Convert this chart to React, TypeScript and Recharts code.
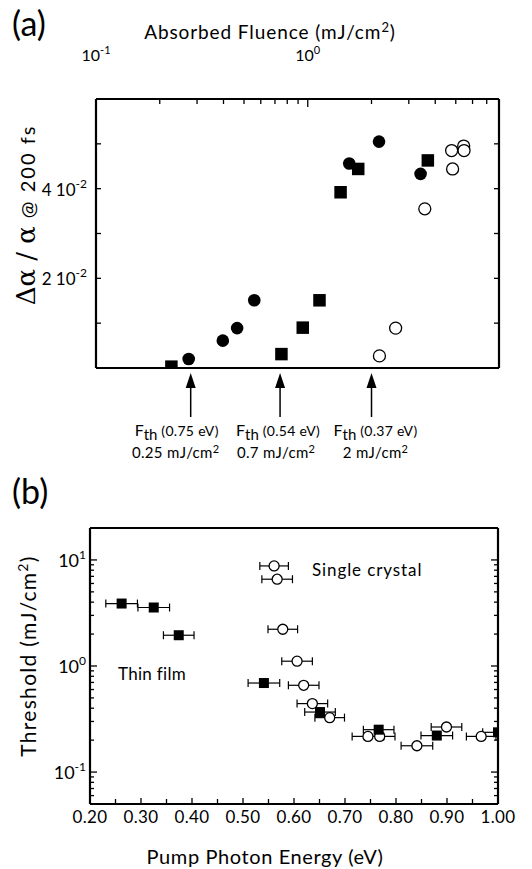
import React from "react";
import { ScatterChart, Scatter, XAxis, YAxis, ReferenceDot, ErrorBar } from "recharts";

// ---- panel (a): transient absorption vs absorbed fluence ----
const fluenceFilledCircle = [0.274, 0.397, 0.464, 0.559, 1.57, 2.17, 3.41];
const signalFilledCircle = [0.002, 0.0061, 0.0089, 0.0151, 0.0456, 0.0505, 0.0433];
const fluenceFilledSquare = [0.227, 0.751, 0.947, 1.136, 1.429, 1.731, 3.69];
const signalFilledSquare = [0.0003, 0.0031, 0.009, 0.0151, 0.0392, 0.0444, 0.0463];
const fluenceOpenCircle = [2.18, 2.6, 3.57, 4.83, 4.78, 5.45, 5.47];
const signalOpenCircle = [0.0027, 0.0089, 0.0355, 0.0444, 0.0485, 0.0495, 0.0485];

const thresholdArrowFluence = [0.28, 0.74, 2.0];
const thresholdPhoton = ["0.75", "0.54", "0.37"];
const thresholdValue = ["0.25", "0.7", "2"];

const fluenceTicks = [0.1, 0.2, 0.3, 0.4, 0.5, 0.6, 0.7, 0.8, 0.9, 1, 2, 3, 4, 5, 6, 7, 8];
const signalTicks = [0.01, 0.02, 0.03, 0.04, 0.05];

// ---- panel (b): threshold vs pump photon energy ----
const crystalEnergy = [0.561, 0.567, 0.578, 0.606, 0.619, 0.636, 0.67, 0.745, 0.768, 0.841, 0.899, 0.967];
const crystalThreshold = [8.78, 6.58, 2.22, 1.11, 0.658, 0.442, 0.326, 0.217, 0.217, 0.177, 0.266, 0.217];
const crystalErr = [0.028, 0.03, 0.029, 0.03, 0.03, 0.03, 0.029, 0.031, 0.03, 0.031, 0.03, 0.029];
const filmEnergy = [0.262, 0.325, 0.374, 0.541, 0.651, 0.766, 0.88, 1.0];
const filmThreshold = [3.88, 3.56, 1.95, 0.691, 0.368, 0.251, 0.221, 0.237];
const filmErr = [0.031, 0.031, 0.03, 0.031, 0.03, 0.03, 0.031, 0.03];

const energyTicks = [0.2, 0.25, 0.3, 0.35, 0.4, 0.45, 0.5, 0.55, 0.6, 0.65, 0.7, 0.75, 0.8, 0.85, 0.9, 0.95, 1.0];
const thresholdTicks = [
  0.06, 0.07, 0.08, 0.09, 0.1, 0.2, 0.3, 0.4, 0.5, 0.6, 0.7, 0.8, 0.9,
  1, 2, 3, 4, 5, 6, 7, 8, 9, 10,
];

const ENERGY_MAX = 1.0;
const FONT = "Lato, sans-serif";
const AXIS_LINE = { stroke: "#000", strokeWidth: 2.2 };

const zip = (xs: number[], ys: number[]) => xs.map((x, i) => ({ x, y: ys[i] }));

// error bars are cut at the right frame edge, like in the original plot
const zipErr = (xs: number[], ys: number[], es: number[]) =>
  xs.map((x, i) => ({ x, y: ys[i], err: [es[i], Math.max(0, Math.min(es[i], ENERGY_MAX - x))] }));

const isPow10 = (v: number) => Math.abs(Math.log10(v) - Math.round(Math.log10(v))) < 1e-6;

type LabelFn = (v: number, x: number, y: number) => React.ReactNode;

// tick drawers (ticks point into the frame)
const tickTop = (len: (v: number) => number, label?: LabelFn) => (p: any) => (
  <g>
    <line x1={p.x} x2={p.x} y1={p.y} y2={p.y + len(p.payload.value)} stroke="#000" strokeWidth={1.3} />
    {label && label(p.payload.value, p.x, p.y)}
  </g>
);
const tickBottom = (len: (v: number) => number, label?: LabelFn) => (p: any) => (
  <g>
    <line x1={p.x} x2={p.x} y1={p.y} y2={p.y - len(p.payload.value)} stroke="#000" strokeWidth={1.3} />
    {label && label(p.payload.value, p.x, p.y)}
  </g>
);
const tickLeft = (len: (v: number) => number, label?: LabelFn) => (p: any) => (
  <g>
    <line x1={p.x} x2={p.x + len(p.payload.value)} y1={p.y} y2={p.y} stroke="#000" strokeWidth={1.3} />
    {label && label(p.payload.value, p.x, p.y)}
  </g>
);
const tickRight = (len: (v: number) => number) => (p: any) => (
  <g>
    <line x1={p.x} x2={p.x - len(p.payload.value)} y1={p.y} y2={p.y} stroke="#000" strokeWidth={1.3} />
  </g>
);

const filledCircle = (r: number) => (p: any) => <circle cx={p.cx} cy={p.cy} r={r} fill="#000" />;
const openCircle = (r: number) => (p: any) => (
  <circle cx={p.cx} cy={p.cy} r={r} fill="#fff" stroke="#000" strokeWidth={1.3} />
);
const filledSquare = (s: number) => (p: any) => (
  <rect x={p.cx - s / 2} y={p.cy - s / 2} width={s} height={s} fill="#000" />
);

const labelShift1 = [-14, -2, 4];
const labelShift2 = [-15, -4, 4];

const thresholdArrow = (i: number) => (p: any) => {
  const { cx, cy } = p;
  return (
    <g fontFamily={FONT}>
      <path d={`M${cx},${cy + 5} L${cx - 5},${cy + 20} L${cx + 5},${cy + 20} Z`} fill="#000" />
      <line x1={cx} x2={cx} y1={cy + 18} y2={cy + 49} stroke="#000" strokeWidth={1.5} />
      <text x={cx + labelShift1[i]} y={cy + 68} textAnchor="middle" fontSize={16} fill="#000">
        F<tspan dy={4} fontSize={15}>th</tspan>
        <tspan dy={-4} fontSize={14} letterSpacing={0.3}>{` (${thresholdPhoton[i]} eV)`}</tspan>
      </text>
      <text x={cx + labelShift2[i]} y={cy + 90} textAnchor="middle" fontSize={15} fill="#000" letterSpacing={0.3}>
        {`${thresholdValue[i]} mJ/cm`}
        <tspan dy={-5} fontSize={11}>2</tspan>
      </text>
    </g>
  );
};

function PanelA() {
  return (
    <ScatterChart width={532} height={480} margin={{ top: 69, right: 23, bottom: 102, left: 36 }}>
      <XAxis
        xAxisId="top"
        orientation="top"
        dataKey="x"
        type="number"
        scale="log"
        domain={[0.1, 8]}
        allowDataOverflow
        ticks={fluenceTicks}
        interval={0}
        height={30}
        tickSize={0}
        tickMargin={0}
        axisLine={AXIS_LINE}
        tickLine={false}
        tick={tickTop(
          (v) => (isPow10(v) ? 8 : 5),
          (v, x, y) =>
            isPow10(v) ? (
              <text x={x} y={y - 38} textAnchor="middle" fontSize={16} fontFamily={FONT} fill="#000">
                10<tspan dy={-7} fontSize={11}>{Math.round(Math.log10(v))}</tspan>
              </text>
            ) : null
        )}
      />
      <XAxis
        xAxisId="bottom"
        orientation="bottom"
        type="number"
        scale="log"
        domain={[0.1, 8]}
        allowDataOverflow
        ticks={fluenceTicks}
        interval={0}
        height={10}
        tickSize={0}
        tickMargin={0}
        axisLine={AXIS_LINE}
        tickLine={false}
        tick={tickBottom((v) => (isPow10(v) ? 8 : 5))}
      />
      <YAxis
        yAxisId="left"
        dataKey="y"
        type="number"
        domain={[0, 0.06]}
        allowDataOverflow
        ticks={signalTicks}
        interval={0}
        width={60}
        tickSize={0}
        tickMargin={0}
        axisLine={AXIS_LINE}
        tickLine={false}
        tick={tickLeft(
          () => 5,
          (v, x, y) =>
            Math.round(v * 100) % 2 === 0 ? (
              <text x={x - 9} y={y + 7} textAnchor="end" fontSize={17} fontFamily={FONT} fill="#000">
                {`${Math.round(v * 100)} 10`}
                <tspan dy={-8} fontSize={12}>-2</tspan>
              </text>
            ) : null
        )}
      />
      <YAxis
        yAxisId="right"
        orientation="right"
        type="number"
        domain={[0, 0.06]}
        allowDataOverflow
        ticks={signalTicks}
        interval={0}
        width={10}
        tickSize={0}
        tickMargin={0}
        axisLine={AXIS_LINE}
        tickLine={false}
        tick={tickRight(() => 5)}
      />
      <Scatter
        xAxisId="top"
        yAxisId="left"
        data={zip(fluenceFilledCircle, signalFilledCircle)}
        shape={filledCircle(6.3)}
        isAnimationActive={false}
      />
      <Scatter
        xAxisId="top"
        yAxisId="left"
        data={zip(fluenceFilledSquare, signalFilledSquare)}
        shape={filledSquare(12.5)}
        isAnimationActive={false}
      />
      <Scatter
        xAxisId="top"
        yAxisId="left"
        data={zip(fluenceOpenCircle, signalOpenCircle)}
        shape={openCircle(6)}
        isAnimationActive={false}
      />
      {thresholdArrowFluence.map((f, i) => (
        <ReferenceDot key={i} xAxisId="top" yAxisId="left" x={f} y={0} shape={thresholdArrow(i)} />
      ))}
    </ScatterChart>
  );
}

function PanelB() {
  const major = (v: number) => Math.abs(v * 10 - Math.round(v * 10)) < 1e-6;
  const logLen = (v: number) => (isPow10(v) ? 7 : 4);
  return (
    <ScatterChart width={532} height={389} margin={{ top: 38, right: 24, bottom: 35, left: 30 }}>
      <XAxis
        xAxisId="bottom"
        orientation="bottom"
        dataKey="x"
        type="number"
        domain={[0.2, ENERGY_MAX]}
        allowDataOverflow
        ticks={energyTicks}
        interval={0}
        height={30}
        tickSize={0}
        tickMargin={0}
        axisLine={AXIS_LINE}
        tickLine={false}
        tick={tickBottom(
          (v) => (major(v) ? 6 : 5),
          (v, x, y) =>
            major(v) ? (
              <text x={x} y={y + 19} textAnchor="middle" fontSize={17} fontFamily={FONT} fill="#000" letterSpacing={0.3}>
                {v.toFixed(2)}
              </text>
            ) : null
        )}
      />
      <XAxis
        xAxisId="top"
        orientation="top"
        type="number"
        domain={[0.2, ENERGY_MAX]}
        allowDataOverflow
        ticks={energyTicks}
        interval={0}
        height={10}
        tickSize={0}
        tickMargin={0}
        axisLine={AXIS_LINE}
        tickLine={false}
        tick={tickTop((v) => (major(v) ? 6 : 5))}
      />
      <YAxis
        yAxisId="left"
        dataKey="y"
        type="number"
        scale="log"
        domain={[0.05, 20]}
        allowDataOverflow
        ticks={thresholdTicks}
        interval={0}
        width={60}
        tickSize={0}
        tickMargin={0}
        axisLine={AXIS_LINE}
        tickLine={false}
        tick={tickLeft(logLen, (v, x, y) =>
          isPow10(v) ? (
            <text x={x - 4} y={y + 7} textAnchor="end" fontSize={18} fontFamily={FONT} fill="#000">
              10<tspan dy={-8} fontSize={12}>{Math.round(Math.log10(v))}</tspan>
            </text>
          ) : null
        )}
      />
      <YAxis
        yAxisId="right"
        orientation="right"
        type="number"
        scale="log"
        domain={[0.05, 20]}
        allowDataOverflow
        ticks={thresholdTicks}
        interval={0}
        width={10}
        tickSize={0}
        tickMargin={0}
        axisLine={AXIS_LINE}
        tickLine={false}
        tick={tickRight(logLen)}
      />
      <Scatter
        xAxisId="bottom"
        yAxisId="left"
        data={zipErr(crystalEnergy, crystalThreshold, crystalErr)}
        shape={openCircle(5)}
        isAnimationActive={false}
      >
        <ErrorBar dataKey="err" direction="x" width={4} stroke="#000" strokeWidth={1.2} isAnimationActive={false} />
      </Scatter>
      <Scatter
        xAxisId="bottom"
        yAxisId="left"
        data={zipErr(filmEnergy, filmThreshold, filmErr)}
        shape={filledSquare(10)}
        isAnimationActive={false}
      >
        <ErrorBar dataKey="err" direction="x" width={4} stroke="#000" strokeWidth={1.2} isAnimationActive={false} />
      </Scatter>
    </ScatterChart>
  );
}

const abs: React.CSSProperties = { position: "absolute", whiteSpace: "nowrap", fontFamily: FONT, color: "#000", lineHeight: 1 };

export default function App() {
  return (
    <div style={{ position: "relative", width: 532, height: 869, background: "#fff", overflow: "hidden" }}>
      <style>{"body{margin:0}"}</style>
      <div style={{ ...abs, left: 12, top: 6, fontSize: 34 }}>(a)</div>
      <div style={{ ...abs, left: 270, top: 21, fontSize: 19, transform: "translateX(-50%)", letterSpacing: 0.9 }}>
        Absorbed Fluence (mJ/cm<sup style={{ fontSize: 13 }}>2</sup>)
      </div>
      <div
        style={{
          ...abs,
          left: 26,
          top: 215,
          transform: "translate(-50%,-50%) rotate(-90deg)",
          display: "flex",
          alignItems: "baseline",
        }}
      >
        <span style={{ fontFamily: "'DejaVu Serif', serif", fontSize: 26 }}>Δα / α</span>
        <span style={{ fontSize: 20, marginLeft: 8, letterSpacing: 2 }}>@ 200 fs</span>
      </div>
      <div style={{ position: "absolute", left: 0, top: 0 }}>
        <PanelA />
      </div>

      <div style={{ ...abs, left: 12, top: 474, fontSize: 34 }}>(b)</div>
      <div
        style={{
          ...abs,
          left: 27,
          top: 656,
          fontSize: 21,
          letterSpacing: 1.3,
          transform: "translate(-50%,-50%) rotate(-90deg)",
        }}
      >
        Threshold (mJ/cm<sup style={{ fontSize: 14 }}>2</sup>)
      </div>
      <div style={{ ...abs, left: 265, top: 846, fontSize: 20, letterSpacing: 0.6, transform: "translateX(-50%)" }}>
        Pump Photon Energy (eV)
      </div>
      <div style={{ ...abs, left: 312, top: 561, fontSize: 17, letterSpacing: 0.9 }}>Single crystal</div>
      <div style={{ ...abs, left: 118, top: 665, fontSize: 17, letterSpacing: 0.3 }}>Thin film</div>
      <div style={{ position: "absolute", left: 0, top: 480 }}>
        <PanelB />
      </div>
    </div>
  );
}
